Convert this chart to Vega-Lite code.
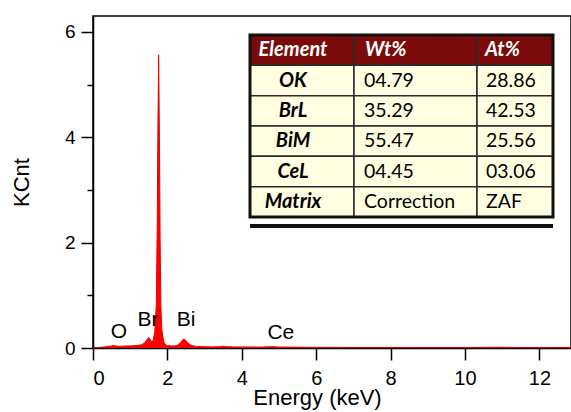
{
  "$schema": "https://vega.github.io/schema/vega-lite/v6.json",
  "width": 478,
  "height": 332,
  "autosize": {"type": "none"},
  "padding": {"left": 93, "top": 16, "right": 0, "bottom": 64},
  "background": "white",
  "config": {
    "view": {"stroke": "black", "strokeWidth": 1.5},
    "axis": {
      "domainColor": "black", "domainWidth": 1.5, "tickColor": "black", "tickWidth": 1.5, "tickSize": 12,
      "labelColor": "black", "labelFont": "Liberation Sans",
      "titleFontSize": 22, "titleFontWeight": "normal", "titleColor": "black", "titleFont": "Liberation Sans",
      "grid": false
    },
    "axisX": {"labelPadding": 8, "titlePadding": -1, "labelFontSize": 20},
    "axisY": {"labelPadding": 6, "titlePadding": 31, "labelFontSize": 19}
  },
  "datasets": {
    "spectrum": [
      {"energy": 0, "kcnt": 0}, {"energy": 0.1, "kcnt": 0.005}, {"energy": 0.2, "kcnt": 0.01}, {"energy": 0.3, "kcnt": 0.02},
      {"energy": 0.4, "kcnt": 0.03}, {"energy": 0.5, "kcnt": 0.04}, {"energy": 0.55, "kcnt": 0.05}, {"energy": 0.6, "kcnt": 0.04},
      {"energy": 0.7, "kcnt": 0.03}, {"energy": 0.8, "kcnt": 0.035}, {"energy": 0.9, "kcnt": 0.04}, {"energy": 1.0, "kcnt": 0.04},
      {"energy": 1.1, "kcnt": 0.045}, {"energy": 1.2, "kcnt": 0.05}, {"energy": 1.3, "kcnt": 0.06}, {"energy": 1.38, "kcnt": 0.09},
      {"energy": 1.44, "kcnt": 0.15}, {"energy": 1.5, "kcnt": 0.2}, {"energy": 1.54, "kcnt": 0.16}, {"energy": 1.58, "kcnt": 0.12},
      {"energy": 1.62, "kcnt": 0.15}, {"energy": 1.66, "kcnt": 0.3}, {"energy": 1.7, "kcnt": 0.8}, {"energy": 1.725, "kcnt": 2.2},
      {"energy": 1.745, "kcnt": 4.2}, {"energy": 1.765, "kcnt": 5.56}, {"energy": 1.785, "kcnt": 4.0}, {"energy": 1.805, "kcnt": 2.0},
      {"energy": 1.825, "kcnt": 0.8}, {"energy": 1.85, "kcnt": 0.35}, {"energy": 1.9, "kcnt": 0.12}, {"energy": 1.95, "kcnt": 0.06},
      {"energy": 2.0, "kcnt": 0.045}, {"energy": 2.1, "kcnt": 0.04}, {"energy": 2.2, "kcnt": 0.04}, {"energy": 2.3, "kcnt": 0.06},
      {"energy": 2.37, "kcnt": 0.12}, {"energy": 2.43, "kcnt": 0.17}, {"energy": 2.5, "kcnt": 0.14}, {"energy": 2.56, "kcnt": 0.09},
      {"energy": 2.62, "kcnt": 0.06}, {"energy": 2.7, "kcnt": 0.04}, {"energy": 2.8, "kcnt": 0.03}, {"energy": 3.0, "kcnt": 0.025},
      {"energy": 3.2, "kcnt": 0.02}, {"energy": 3.4, "kcnt": 0.025}, {"energy": 3.5, "kcnt": 0.035}, {"energy": 3.6, "kcnt": 0.025},
      {"energy": 3.8, "kcnt": 0.02}, {"energy": 4.0, "kcnt": 0.02}, {"energy": 4.5, "kcnt": 0.018}, {"energy": 4.84, "kcnt": 0.025},
      {"energy": 5.0, "kcnt": 0.018}, {"energy": 5.5, "kcnt": 0.015}, {"energy": 6.0, "kcnt": 0.012}, {"energy": 7.0, "kcnt": 0.01},
      {"energy": 8.0, "kcnt": 0.01}, {"energy": 9.0, "kcnt": 0.008}, {"energy": 10.0, "kcnt": 0.008}, {"energy": 10.9, "kcnt": 0.014},
      {"energy": 11.5, "kcnt": 0.008}, {"energy": 12.0, "kcnt": 0.006}, {"energy": 12.85, "kcnt": 0.005}
    ],
    "peaks": [
      {"element": "O", "energy": 0.7, "kcnt": 0.3},
      {"element": "Br", "energy": 1.48, "kcnt": 0.53},
      {"element": "Bi", "energy": 2.5, "kcnt": 0.53},
      {"element": "Ce", "energy": 5.05, "kcnt": 0.28}
    ],
    "cells": [
      {"r": "Element", "c": "Element", "v": "Element"},
      {"r": "Element", "c": "Wt%", "v": "Wt%"},
      {"r": "Element", "c": "At%", "v": "At%"},
      {"r": "OK", "c": "Element", "v": "OK"},
      {"r": "OK", "c": "Wt%", "v": "04.79"},
      {"r": "OK", "c": "At%", "v": "28.86"},
      {"r": "BrL", "c": "Element", "v": "BrL"},
      {"r": "BrL", "c": "Wt%", "v": "35.29"},
      {"r": "BrL", "c": "At%", "v": "42.53"},
      {"r": "BiM", "c": "Element", "v": "BiM"},
      {"r": "BiM", "c": "Wt%", "v": "55.47"},
      {"r": "BiM", "c": "At%", "v": "25.56"},
      {"r": "CeL", "c": "Element", "v": "CeL"},
      {"r": "CeL", "c": "Wt%", "v": "04.45"},
      {"r": "CeL", "c": "At%", "v": "03.06"},
      {"r": "Matrix", "c": "Element", "v": "Matrix"},
      {"r": "Matrix", "c": "Wt%", "v": "Correction"},
      {"r": "Matrix", "c": "At%", "v": "ZAF"}
    ],
    "frame": [{"part": "frame"}],
    "shadow": [{"part": "shadow"}]
  },
  "layer": [
    {
      "layer": [
        {
          "data": {"name": "spectrum"},
          "mark": {"type": "area", "color": "#ff0000", "opacity": 1, "line": {"color": "#ee0000", "strokeWidth": 1}},
          "encoding": {
            "x": {"field": "energy", "type": "quantitative", "title": "Energy (keV)",
                  "scale": {"domain": [0, 12.85], "nice": false, "zero": false},
                  "axis": {"values": [0, 2, 4, 6, 8, 10, 12], "titleX": 224}},
            "y": {"field": "kcnt", "type": "quantitative", "title": "KCnt",
                  "scale": {"domain": [0, 6.3], "nice": false},
                  "axis": {"values": [0, 2, 4, 6], "orient": "left"}}
          }
        },
        {
          "data": {"name": "peaks"},
          "mark": {"type": "text", "fontSize": 21, "font": "Liberation Sans", "color": "black"},
          "encoding": {
            "x": {"field": "energy", "type": "quantitative", "title": "Energy (keV)"},
            "y": {"field": "kcnt", "type": "quantitative", "axis": null},
            "text": {"field": "element"}
          }
        },
        {
          "data": {"name": "peaks"},
          "mark": {"type": "point", "opacity": 0},
          "encoding": {
            "x": {"field": "energy", "type": "quantitative", "title": "Energy (keV)"},
            "y": {"field": "kcnt", "type": "quantitative",
                  "axis": {"values": [1, 3, 5], "labels": false, "tickSize": 6, "domain": false, "title": null, "orient": "left"}}
          }
        }
      ],
      "resolve": {"axis": {"y": "independent"}}
    },
    {
      "layer": [
        {
          "data": {"name": "cells"},
          "transform": [{"filter": "datum.c === 'Element'"}],
          "encoding": {
            "x": {"field": "c", "type": "nominal", "axis": null,
                  "scale": {"type": "band", "domain": ["Element"], "range": [157, 261], "paddingInner": 0, "paddingOuter": 0}},
            "y": {"field": "r", "type": "nominal", "axis": null,
                  "scale": {"type": "band", "domain": ["Element", "OK", "BrL", "BiM", "CeL", "Matrix"], "range": [19, 201], "paddingInner": 0, "paddingOuter": 0}}
          },
          "layer": [
            {"mark": {"type": "rect", "stroke": "#2a2a2a", "strokeWidth": 1.5},
             "encoding": {"fill": {"condition": {"test": "datum.r === 'Element'", "value": "#7b0b0b"}, "value": "#fffee0"}}},
            {"mark": {"type": "text", "font": "Lato", "fontSize": 20, "fontStyle": "italic", "fontWeight": "bold", "dx": -9},
             "encoding": {"text": {"field": "v"},
                          "color": {"condition": {"test": "datum.r === 'Element'", "value": "white"}, "value": "black"}}}
          ]
        },
        {
          "data": {"name": "cells"},
          "transform": [{"filter": "datum.c === 'Wt%'"}],
          "encoding": {
            "x": {"field": "c", "type": "nominal", "axis": null,
                  "scale": {"type": "band", "domain": ["Wt%"], "range": [261, 384], "paddingInner": 0, "paddingOuter": 0}},
            "y": {"field": "r", "type": "nominal", "axis": null,
                  "scale": {"type": "band", "domain": ["Element", "OK", "BrL", "BiM", "CeL", "Matrix"], "range": [19, 201], "paddingInner": 0, "paddingOuter": 0}}
          },
          "layer": [
            {"mark": {"type": "rect", "stroke": "#2a2a2a", "strokeWidth": 1.5},
             "encoding": {"fill": {"condition": {"test": "datum.r === 'Element'", "value": "#7b0b0b"}, "value": "#fffee0"}}},
            {"transform": [{"filter": "datum.r === 'Element'"}],
             "mark": {"type": "text", "font": "Lato", "fontSize": 20, "fontStyle": "italic", "fontWeight": "bold", "align": "left", "dx": 11, "color": "white"},
             "encoding": {"x": {"field": "c", "type": "nominal", "bandPosition": 0}, "text": {"field": "v"}}},
            {"transform": [{"filter": "datum.r !== 'Element'"}],
             "mark": {"type": "text", "font": "Lato", "fontSize": 19.5, "align": "left", "dx": 10, "color": "black"},
             "encoding": {"x": {"field": "c", "type": "nominal", "bandPosition": 0}, "text": {"field": "v"}}}
          ]
        },
        {
          "data": {"name": "cells"},
          "transform": [{"filter": "datum.c === 'At%'"}],
          "encoding": {
            "x": {"field": "c", "type": "nominal", "axis": null,
                  "scale": {"type": "band", "domain": ["At%"], "range": [384, 460], "paddingInner": 0, "paddingOuter": 0}},
            "y": {"field": "r", "type": "nominal", "axis": null,
                  "scale": {"type": "band", "domain": ["Element", "OK", "BrL", "BiM", "CeL", "Matrix"], "range": [19, 201], "paddingInner": 0, "paddingOuter": 0}}
          },
          "layer": [
            {"mark": {"type": "rect", "stroke": "#2a2a2a", "strokeWidth": 1.5},
             "encoding": {"fill": {"condition": {"test": "datum.r === 'Element'", "value": "#7b0b0b"}, "value": "#fffee0"}}},
            {"transform": [{"filter": "datum.r === 'Element'"}],
             "mark": {"type": "text", "font": "Lato", "fontSize": 20, "fontStyle": "italic", "fontWeight": "bold", "align": "left", "dx": 8, "color": "white"},
             "encoding": {"x": {"field": "c", "type": "nominal", "bandPosition": 0}, "text": {"field": "v"}}},
            {"transform": [{"filter": "datum.r !== 'Element'"}],
             "mark": {"type": "text", "font": "Lato", "fontSize": 19.5, "align": "left", "dx": 9, "color": "black"},
             "encoding": {"x": {"field": "c", "type": "nominal", "bandPosition": 0}, "text": {"field": "v"}}}
          ]
        },
        {
          "data": {"name": "frame"},
          "mark": {"type": "rect", "fillOpacity": 0, "stroke": "#111111", "strokeWidth": 3},
          "encoding": {
            "x": {"field": "part", "type": "nominal", "axis": null,
                  "scale": {"type": "band", "domain": ["frame"], "range": [157, 460], "paddingInner": 0, "paddingOuter": 0}},
            "y": {"field": "part", "type": "nominal", "axis": null,
                  "scale": {"type": "band", "domain": ["frame"], "range": [19, 201], "paddingInner": 0, "paddingOuter": 0}}
          }
        },
        {
          "data": {"name": "shadow"},
          "mark": {"type": "rect", "color": "#111111"},
          "encoding": {
            "x": {"field": "part", "type": "nominal", "axis": null,
                  "scale": {"type": "band", "domain": ["shadow"], "range": [157, 460], "paddingInner": 0, "paddingOuter": 0}},
            "y": {"field": "part", "type": "nominal", "axis": null,
                  "scale": {"type": "band", "domain": ["shadow"], "range": [208, 212], "paddingInner": 0, "paddingOuter": 0}}
          }
        }
      ],
      "resolve": {"scale": {"x": "independent", "y": "independent"}}
    }
  ],
  "resolve": {"scale": {"x": "independent", "y": "independent"}}
}
